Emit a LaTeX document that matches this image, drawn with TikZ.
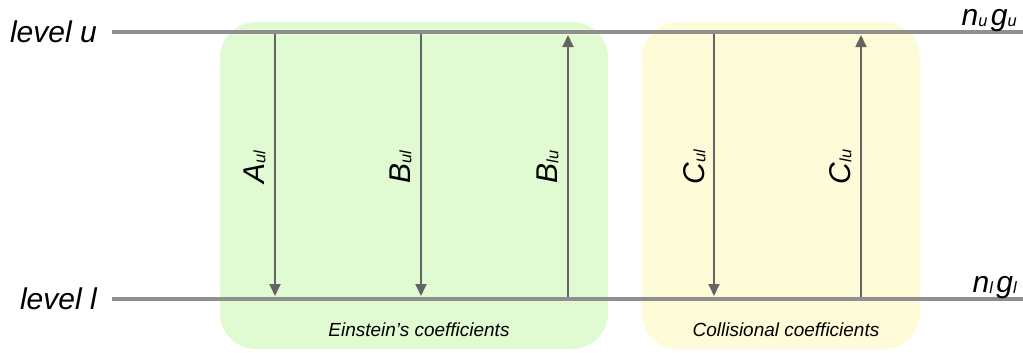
\documentclass[tikz,border=0pt]{standalone}
\usepackage{fontspec}
\setmainfont{Liberation Sans}
\usetikzlibrary{arrows.meta}
\definecolor{levelgray}{RGB}{143,143,143}
\definecolor{arrowgray}{RGB}{100,100,100}
\definecolor{einsteingreen}{RGB}{224,250,209}
\definecolor{collisionyellow}{RGB}{254,252,216}
% small lowered index in the same italic face
\newcommand\idx[1]{\raisebox{-1.2pt}{\fontsize{14}{14}\selectfont #1}}
% one grid step of the picture is 0.03cm
\tikzset{
  level/.style={line width=0.12cm, draw=levelgray},
  coefbox/.style={rounded corners=1.08cm, draw=none},
  trans/.style={line width=0.054cm, draw=arrowgray,
    -{Triangle[width=0.33cm,length=0.36cm]}, shorten >=0.03cm},
  biglabel/.style={inner sep=0pt, font=\fontsize{25.6}{30}\selectfont\itshape},
  coeflabel/.style={biglabel, rotate=90, anchor=base},
  boxlabel/.style={inner sep=0pt, anchor=base, font=\fontsize{16.2}{19}\selectfont\itshape}
}
\begin{document}
\begin{tikzpicture}[x=0.03cm, y=-0.03cm]
\useasboundingbox (0,0) rectangle (1023,352);

% coefficient groups
\fill[coefbox, einsteingreen] (220,22) rectangle (608,349);
\fill[coefbox, collisionyellow] (642,22) rectangle (920,349);

% energy levels
\coordinate (uL) at (112,32);
\coordinate (uR) at (1023,32);
\coordinate (lL) at (112,299);
\coordinate (lR) at (1023,299);
\draw[level] (uL) -- (uR);
\draw[level] (lL) -- (lR);

\node[biglabel, anchor=base east] (levu) at (97,42) {level u};
\node[biglabel, anchor=base east] (levl) at (97,309) {level l};
\node[biglabel, anchor=base east] (ngu) at (1017,25) {n\idx{u}\hspace{3pt}g\idx{u}};
\node[biglabel, anchor=base east] (ngl) at (1017,292) {n\idx{l}\hspace{3pt}g\idx{l}};

% transition end points on the two levels
\foreach \n/\x in {a/275, b/421, c/568, d/714, e/861}{
  \coordinate (\n u) at (\x,34);
  \coordinate (\n l) at (\x,297);
}

% transitions
\draw[trans] (au) -- (al);
\draw[trans] (bu) -- (bl);
\draw[trans] (cl) -- (cu);
\draw[trans] (du) -- (dl);
\draw[trans] (el) -- (eu);

\node[coeflabel] (Aul) at (264,167) {A\idx{ul}};
\node[coeflabel] (Bul) at (410,167) {B\idx{ul}};
\node[coeflabel] (Blu) at (557,167) {B\idx{lu}};
\node[coeflabel] (Cul) at (704,167) {C\idx{ul}};
\node[coeflabel] (Clu) at (850,167) {C\idx{lu}};

\node[boxlabel] (ein) at (419,336.5) {Einstein’s coefficients};
\node[boxlabel] (col) at (786,336.5) {Collisional coefficients};
\end{tikzpicture}
\end{document}
